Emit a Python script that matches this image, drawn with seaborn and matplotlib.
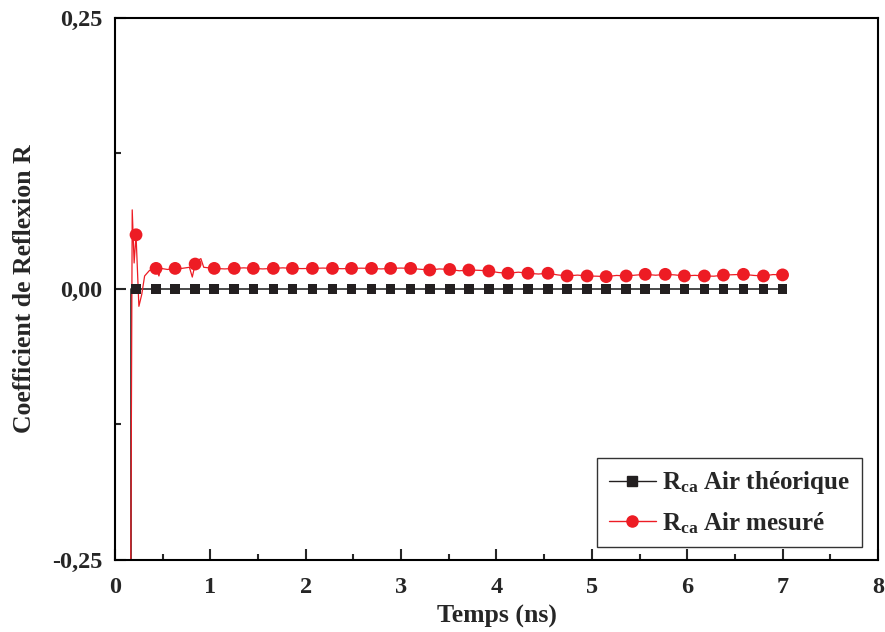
import matplotlib
matplotlib.use("Agg")
import matplotlib.pyplot as plt
from matplotlib.lines import Line2D
from matplotlib.ticker import FixedLocator, FuncFormatter
import seaborn as sns
import pandas as pd

# ---- data ----
marker_t = [0.22, 0.43, 0.63, 0.84, 1.04, 1.25, 1.45, 1.66, 1.86, 2.07, 2.28, 2.48,
            2.69, 2.89, 3.10, 3.30, 3.51, 3.71, 3.92, 4.12, 4.33, 4.54, 4.74, 4.95,
            5.15, 5.36, 5.56, 5.77, 5.97, 6.18, 6.38, 6.59, 6.80, 7.00]
theo_marker_r = [0.0] * len(marker_t)
meas_marker_r = [0.050, 0.019, 0.019, 0.023, 0.019, 0.019, 0.019, 0.019, 0.019, 0.019,
                 0.019, 0.019, 0.019, 0.019, 0.019, 0.0175, 0.018, 0.0175, 0.0166, 0.0145,
                 0.0145, 0.0145, 0.012, 0.012, 0.0114, 0.012, 0.0135, 0.0135, 0.012, 0.012,
                 0.0128, 0.0135, 0.012, 0.013]

theo_line_t = [0.163, 0.163, 7.00]
theo_line_r = [-0.30, 0.0, 0.0]

meas_line_t = [0.163, 0.18, 0.20, 0.22, 0.25, 0.28, 0.31, 0.36, 0.43, 0.46, 0.48, 0.55,
               0.63, 0.70, 0.78, 0.81, 0.84, 0.88, 0.90, 0.93,
               1.04, 1.15, 1.25, 1.35, 1.45, 1.55, 1.66, 1.76, 1.86, 1.96, 2.07, 2.18,
               2.28, 2.38, 2.48, 2.58, 2.69, 2.79, 2.89, 3.00, 3.10, 3.20, 3.30, 3.40,
               3.51, 3.61, 3.71, 3.82, 3.92, 4.02, 4.12, 4.23, 4.33, 4.44, 4.54, 4.64,
               4.74, 4.85, 4.95, 5.05, 5.15, 5.26, 5.36, 5.46, 5.56, 5.67, 5.77, 5.87,
               5.97, 6.08, 6.18, 6.28, 6.38, 6.49, 6.59, 6.70, 6.80, 6.90, 7.00]
meas_line_r = [-0.30, 0.073, 0.024, 0.050, -0.016, -0.005, 0.012, 0.017, 0.019, 0.012,
               0.019, 0.018, 0.019, 0.019, 0.020, 0.011, 0.023, 0.027, 0.028, 0.020,
               0.019, 0.0185, 0.019, 0.0195, 0.019, 0.0185, 0.019, 0.0195, 0.019, 0.0188,
               0.019, 0.0193, 0.019, 0.0187, 0.019, 0.0192, 0.019, 0.0185, 0.019, 0.0193,
               0.019, 0.0182, 0.0175, 0.0185, 0.018, 0.0168, 0.0175, 0.0172, 0.0166, 0.0152,
               0.0145, 0.0155, 0.0145, 0.0138, 0.0145, 0.013, 0.012, 0.0128, 0.012, 0.0118,
               0.0114, 0.0125, 0.012, 0.0128, 0.0135, 0.0127, 0.0135, 0.013, 0.012, 0.0126,
               0.012, 0.0118, 0.0128, 0.0132, 0.0135, 0.0125, 0.012, 0.0133, 0.013]

x_ticks = [0, 1, 2, 3, 4, 5, 6, 7, 8]
y_ticks = [-0.25, 0.0, 0.25]
label_theo = r"R$_{ca}$ Air théorique"
label_meas = r"R$_{ca}$ Air mesuré"

# ---- style ----
sns.set_style("ticks")
plt.rcParams["font.family"] = ["Liberation Serif", "DejaVu Serif"]
plt.rcParams["font.weight"] = "bold"
plt.rcParams["mathtext.fontset"] = "custom"
plt.rcParams["mathtext.rm"] = "Liberation Serif:bold"
plt.rcParams["mathtext.it"] = "Liberation Serif:bold"
plt.rcParams["mathtext.bf"] = "Liberation Serif:bold"

RED = "#ED1C24"
BLACK = "#231F20"

fig = plt.figure(figsize=(8.85, 6.32), dpi=100)
ax = fig.add_axes([0.130, 0.114, 0.862, 0.8575])

sns.lineplot(x=theo_line_t, y=theo_line_r, ax=ax, sort=False, estimator=None,
             color="#3a3a3a", linewidth=1.3)
sns.lineplot(x=meas_line_t, y=meas_line_r, ax=ax, sort=False, estimator=None,
             color=RED, linewidth=0.9)
sns.scatterplot(x=marker_t, y=theo_marker_r, ax=ax, marker="s", s=48,
                color=BLACK, edgecolor="none", zorder=3)
sns.scatterplot(x=marker_t, y=meas_marker_r, ax=ax, marker="o", s=85,
                color=RED, edgecolor="none", zorder=4)

ax.set_xlim(0, 8)
ax.set_ylim(-0.25, 0.25)
ax.xaxis.set_major_locator(FixedLocator(x_ticks))
ax.xaxis.set_minor_locator(FixedLocator([v + 0.5 for v in x_ticks[:-1]]))
ax.yaxis.set_major_locator(FixedLocator(y_ticks))
ax.yaxis.set_minor_locator(FixedLocator([-0.125, 0.125]))
ax.yaxis.set_major_formatter(FuncFormatter(lambda v, p: f"{v:.2f}".replace(".", ",")))

ax.tick_params(which="major", direction="in", length=8, width=1.5, labelsize=17.5,
               pad=9, top=False, right=False)
ax.tick_params(axis="x", which="major", pad=12)
ax.tick_params(which="minor", direction="in", length=4, width=1.5, top=False, right=False)
for lab in ax.get_xticklabels() + ax.get_yticklabels():
    lab.set_fontweight("bold")
for sp in ax.spines.values():
    sp.set_visible(True)
    sp.set_linewidth(1.5)
    sp.set_color("black")

ax.set_xlabel("Temps (ns)", fontsize=18.5, fontweight="bold", labelpad=5)
ax.set_ylabel("Coefficient de Reflexion R", fontsize=18.5, fontweight="bold", labelpad=12)

handles = [
    Line2D([], [], color=BLACK, linewidth=1.0, marker="s", markersize=7),
    Line2D([], [], color=RED, linewidth=1.0, marker="o", markersize=8),
]
leg = ax.legend(handles, [label_theo, label_meas], loc="lower right",
                bbox_to_anchor=(0.979, 0.024), borderaxespad=0, fontsize=18,
                frameon=True, fancybox=False, edgecolor="black", handlelength=1.9,
                borderpad=0.45, labelspacing=0.55, handletextpad=0.25)
leg.get_frame().set_linewidth(1.0)
for t in leg.get_texts():
    t.set_fontweight("bold")

fig.savefig("out.png", dpi=100)
